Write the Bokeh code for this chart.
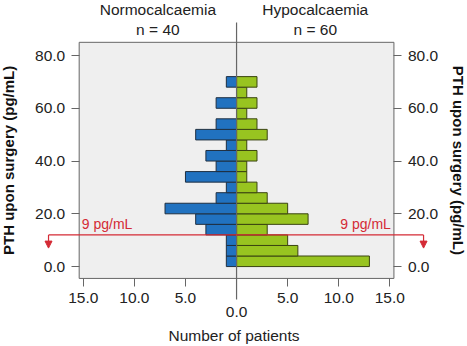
import math
from bokeh.plotting import figure
from bokeh.models import (Range1d, LinearAxis, FixedTicker, NumeralTickFormatter,
                          ColumnDataSource, Arrow, NormalHead, Label)
from bokeh.embed import file_html
from bokeh.resources import INLINE

# PTH histogram bins (pg/mL), 4 pg/mL wide, lowest bin first
bin_edges = [0, 4, 8, 12, 16, 20, 24, 28, 32, 36, 40, 44, 48, 52, 56, 60, 64, 68, 72]
normocalcaemia = [1, 1, 1, 3, 4, 7, 2, 1, 5, 2, 3, 1, 4, 2, 0, 2, 0, 1]
hypocalcaemia = [13, 6, 5, 3, 7, 5, 3, 2, 1, 1, 2, 1, 3, 2, 1, 2, 1, 2]
groups = ["Normocalcaemia", "Hypocalcaemia"]
y_ticks = [0, 20, 40, 60, 80]
x_ticks = [-15, -10, -5, 5, 10, 15]
cutoff = 9  # pg/mL

FONT = "Liberation Sans"
FS = "15.5px"
BLUE = "#2172c0"
GREEN = "#98c420"
RED = "#d42a35"
GREY = "#666666"
TEXT = "#222222"

bin_w = bin_edges[1] - bin_edges[0]
centers = [(a + b) / 2 for a, b in zip(bin_edges[:-1], bin_edges[1:])]
src = ColumnDataSource(dict(
    y=centers,
    normo_left=[-v for v in normocalcaemia],
    hypo_right=hypocalcaemia,
    zero=[0] * len(centers),
))

# panel (grey box) extents in data units; the canvas range is wider so the
# headers, divider and cutoff arrows can sit outside the box
box_x = (-15.4, 15.4)
box_y = (-4.5, 85)

p = figure(width=467, height=346, output_backend="svg", toolbar_location=None,
           x_range=Range1d(-23.1, 22.6), y_range=Range1d(-30.3, 100.85),
           x_axis_location=None, y_axis_location=None, min_border=0)
p.background_fill_color = "white"
p.border_fill_color = "white"
p.outline_line_color = None
p.xgrid.visible = False
p.ygrid.visible = False

p.quad(left=box_x[0], right=box_x[1], bottom=box_y[0], top=box_y[1],
       fill_color="#efefef", line_color=GREY, line_width=1)

p.hbar(y="y", left="normo_left", right="zero", height=bin_w, source=src,
       fill_color=BLUE, line_color="#1f2f40", line_width=1)
p.hbar(y="y", left="zero", right="hypo_right", height=bin_w, source=src,
       fill_color=GREEN, line_color="#3a4410", line_width=1)


def style_axis(ax):
    ax.axis_line_color = None
    ax.major_tick_line_color = GREY
    ax.major_tick_out = 8
    ax.major_tick_in = 0
    ax.minor_tick_line_color = None
    ax.major_label_text_font = FONT
    ax.major_label_text_font_size = FS
    ax.major_label_text_color = TEXT
    ax.axis_label_text_font = FONT
    ax.axis_label_text_font_size = FS
    ax.axis_label_text_color = TEXT
    ax.axis_label_text_font_style = "normal"


for side, loc in [("left", box_x[0]), ("right", box_x[1])]:
    yax = LinearAxis(ticker=FixedTicker(ticks=y_ticks),
                     formatter=NumeralTickFormatter(format="0.0"),
                     fixed_location=loc)
    style_axis(yax)
    yax.major_label_standoff = 6
    p.add_layout(yax, side)

xax = LinearAxis(ticker=FixedTicker(ticks=x_ticks), fixed_location=box_y[0],
                 axis_label="Number of patients")
xax.major_label_overrides = {t: f"{abs(t):.1f}" for t in x_ticks}
style_axis(xax)
xax.major_label_standoff = 7
xax.axis_label_standoff = 20
p.add_layout(xax, "below")

# y-axis titles on both sides of the panel
y_mid = sum(box_y) / 2
for lx, ang in [(-22.35, math.pi / 2), (21.75, -math.pi / 2)]:
    p.add_layout(Label(x=lx, y=y_mid, text="PTH upon surgery (pg/mL)", angle=ang,
                       text_align="center", text_baseline="middle", text_font=FONT,
                       text_font_size="15px", text_font_style="bold", text_color="#111111"))

# central divider running past the panel, with its own zero label
p.segment(x0=[0], y0=[box_y[0] - 8], x1=[0], y1=[box_y[1] + 7.5],
          line_color=GREY, line_width=1.2)
p.add_layout(Label(x=0, y=box_y[0] - 12.6, text="0.0", text_align="center",
                   text_baseline="middle", text_font=FONT, text_font_size=FS,
                   text_color=TEXT))

# group headers
n_counts = [sum(normocalcaemia), sum(hypocalcaemia)]
for name, n, xc in zip(groups, n_counts, [box_x[0] / 2, box_x[1] / 2]):
    p.add_layout(Label(x=xc, y=97.4, text=name, text_align="center",
                       text_baseline="middle", text_font=FONT, text_font_size=FS,
                       text_color=TEXT))
    p.add_layout(Label(x=xc, y=89.8, text=f"n = {n}", text_align="center",
                       text_baseline="middle", text_font=FONT, text_font_size=FS,
                       text_color=TEXT))

# cutoff marker: drawn at the top of the bin holding the cutoff value
cut_y = (cutoff // bin_w + 1) * bin_w
arrow_x = [box_x[0] - 3.0, box_x[1] + 2.9]
p.segment(x0=[arrow_x[0]], y0=[cut_y], x1=[arrow_x[1]], y1=[cut_y],
          line_color=RED, line_width=1.2)
for ax_x in arrow_x:
    p.add_layout(Arrow(end=NormalHead(size=7, fill_color=RED, line_color=RED, line_width=1),
                       x_start=ax_x, y_start=cut_y, x_end=ax_x, y_end=cut_y - 5,
                       line_color=RED, line_width=1.2))
for lx, align in [(box_x[0] + 0.25, "left"), (box_x[1] - 0.3, "right")]:
    p.add_layout(Label(x=lx, y=cut_y, y_offset=3, text=f"{cutoff} pg/mL", text_align=align,
                       text_baseline="bottom", text_font=FONT, text_font_size="14px",
                       text_color=RED))

open("out.html", "w").write(file_html(p, INLINE))
